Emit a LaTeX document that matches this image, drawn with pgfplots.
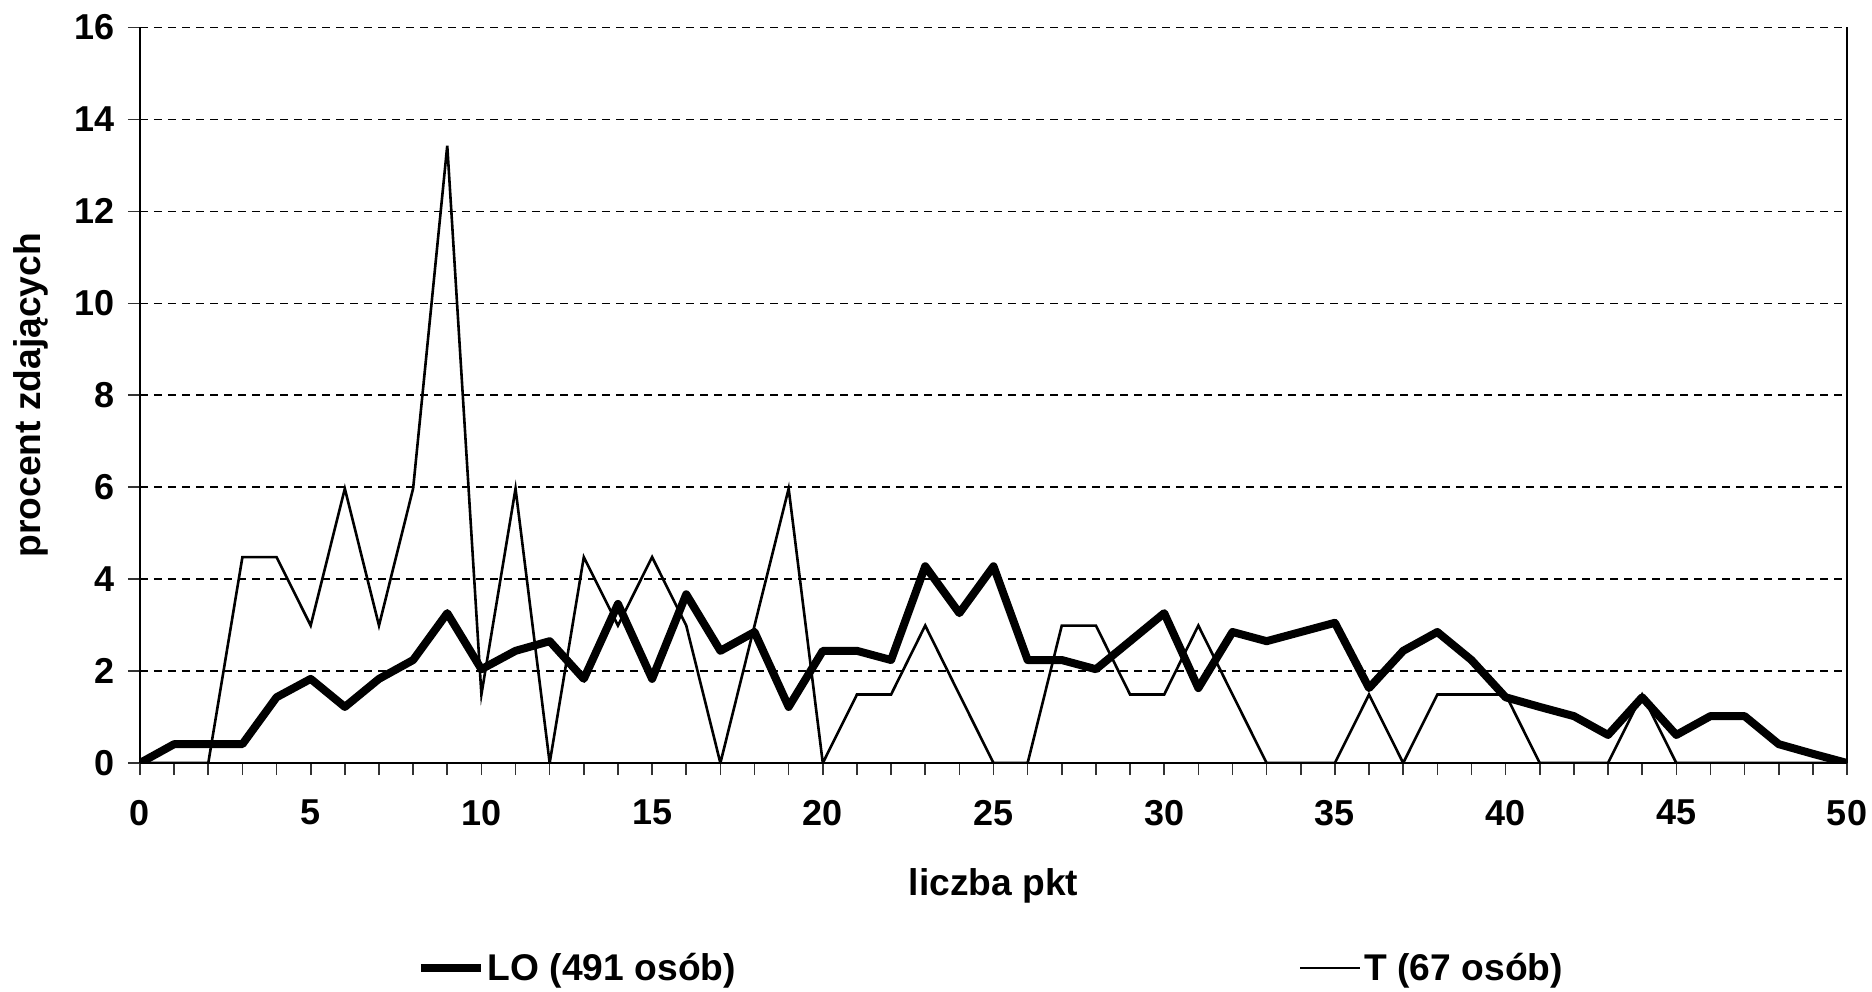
\documentclass[border=0pt]{standalone}
\usepackage{fontspec}
\setmainfont{Liberation Sans}
\usepackage{pgfplots}
\pgfplotsset{compat=1.18}
\begin{document}
\begin{tikzpicture}[font=\fontsize{18}{21}\selectfont\bfseries]
\path[use as bounding box] (-70pt,-114pt) rectangle (866pt,381.5pt);
\begin{axis}[
  at={(0pt,0pt)}, anchor=south west,
  scale only axis,
  width=853.5pt, height=367.75pt,
  xmin=0, xmax=50, ymin=0, ymax=16,
  axis x line*=bottom,
  axis y line*=box,
  axis line style={line width=1pt, black},
  xtick={0,5,...,50},
  minor x tick num=4,
  ytick={0,2,...,16},
  ytick pos=left,
  xtick pos=bottom,
  tick align=outside,
  major tick length=6pt,
  minor tick length=6pt,
  tick style={line width=0.8pt, black!80},
  xticklabel style={yshift=-9pt},
  yticklabel style={xshift=-3pt},
  ymajorgrids,
  major grid style={dash pattern=on 4pt off 3pt, line width=0.8pt, black},
  /pgf/number format/assume math mode=true,
  xlabel={liczba pkt},
  ylabel={procent zdających},
  label style={font=\fontsize{18.6}{21}\selectfont\bfseries},
  xlabel style={at={(axis description cs:0.5,-0.1428)}, anchor=north, inner sep=0pt},
  ylabel style={at={(axis description cs:-0.0638,0.5)}, anchor=center, inner sep=0pt},
  legend columns=2,
  legend style={draw=none, fill=none, inner sep=0pt,
    font=\fontsize{18.6}{21}\selectfont\bfseries,
    at={(axis description cs:0.162,-0.2787)}, anchor=west,
    nodes={inner sep=1.5pt},
    /tikz/every even column/.append style={column sep=280pt}},
  legend image code/.code={\draw[#1] (0pt,0pt) -- (30pt,0pt);},
]
\addplot[black, line width=4pt, line join=round] coordinates {
(0,0) (1,0.41) (2,0.41) (3,0.41) (4,1.43) (5,1.83) (6,1.22) (7,1.83) (8,2.24) (9,3.26)
(10,2.04) (11,2.44) (12,2.65) (13,1.83) (14,3.46) (15,1.83) (16,3.67) (17,2.44) (18,2.85) (19,1.22)
(20,2.44) (21,2.44) (22,2.24) (23,4.28) (24,3.26) (25,4.28) (26,2.24) (27,2.24) (28,2.04) (29,2.65)
(30,3.26) (31,1.63) (32,2.85) (33,2.65) (34,2.85) (35,3.05) (36,1.63) (37,2.44) (38,2.85) (39,2.24)
(40,1.43) (41,1.22) (42,1.02) (43,0.61) (44,1.43) (45,0.61) (46,1.02) (47,1.02) (48,0.41) (49,0.20)
(50,0)
};
\addlegendentry{LO (491 osób)}
\addplot[black, line width=1.3pt] coordinates {
(0,0) (1,0) (2,0) (3,4.48) (4,4.48) (5,2.99) (6,5.97) (7,2.99) (8,5.97) (9,13.43)
(10,1.49) (11,5.97) (12,0) (13,4.48) (14,2.99) (15,4.48) (16,2.99) (17,0) (18,2.99) (19,5.97)
(20,0) (21,1.49) (22,1.49) (23,2.99) (24,1.49) (25,0) (26,0) (27,2.99) (28,2.99) (29,1.49)
(30,1.49) (31,2.99) (32,1.49) (33,0) (34,0) (35,0) (36,1.49) (37,0) (38,1.49) (39,1.49)
(40,1.49) (41,0) (42,0) (43,0) (44,1.49) (45,0) (46,0) (47,0) (48,0) (49,0)
(50,0)
};
\addlegendentry{T (67 osób)}
\end{axis}
\end{tikzpicture}
\end{document}
